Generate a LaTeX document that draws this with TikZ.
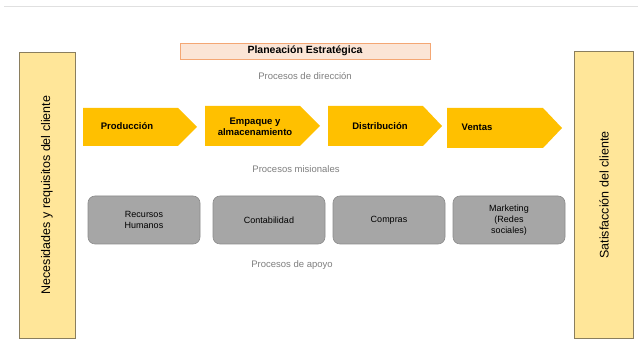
\documentclass[tikz,border=0pt]{standalone}
\usepackage{fontspec}
\setmainfont{Liberation Sans}
\definecolor{chev}{HTML}{FFC000}
\definecolor{side}{HTML}{FFE699}
\definecolor{sideb}{HTML}{8A7E5E}
\definecolor{plan}{HTML}{FBE5D6}
\definecolor{planb}{HTML}{F4A774}
\definecolor{grayf}{HTML}{A6A6A6}
\definecolor{grayb}{HTML}{8C8C8C}
\definecolor{lbl}{HTML}{7F7F7F}
\begin{document}
\begin{tikzpicture}[x=1pt,y=-1pt,
  sidebox/.style={draw=sideb, fill=side, line width=0.8pt, rotate=90, inner sep=0pt,
    font=\fontsize{12.5}{14}\selectfont},
  chevtext/.style={font=\bfseries\fontsize{9.5}{11.5}\selectfont, align=center, inner sep=0pt},
  supbox/.style={draw=grayb, fill=grayf, rounded corners=7pt, line width=0.6pt,
    minimum width=112pt, minimum height=48pt, align=center, inner sep=1pt,
    font=\fontsize{9}{11}\selectfont},
  lbltext/.style={text=lbl, font=\fontsize{9.5}{11}\selectfont, inner sep=0pt},
  chevfill/.style={fill=chev}]
\useasboundingbox (0,0) rectangle (638,352);
\fill[white] (0,0) rectangle (638,352);
\draw[black!12, line width=0.8pt] (4,6) -- (638,6);
% side boxes
\node[sidebox, minimum width=286pt, minimum height=56pt] (need) at (47,195) {Necesidades y requisitos del cliente};
\node[sidebox, minimum width=287pt, minimum height=59pt] (sat) at (604,195) {Satisfacción del cliente};
% planning box
\node[draw=planb, fill=plan, line width=0.8pt, minimum width=250pt, minimum height=16pt, inner sep=0pt,
  font=\bfseries\fontsize{10.5}{12}\selectfont] (plan) at (305,51) {Planeación Estratégica};
\node[lbltext] (dir) at (305,76) {Procesos de dirección};
% chevrons
\fill[chevfill] (83,108) -- (178,108) -- (197,127) -- (178,146) -- (83,146) -- cycle;
\fill[chevfill] (205,106) -- (300,106) -- (320,126) -- (300,146) -- (205,146) -- cycle;
\fill[chevfill] (328,106) -- (423,106) -- (442,126) -- (423,146) -- (328,146) -- cycle;
\fill[chevfill] (447,108) -- (543,108) -- (562,128) -- (543,148) -- (447,148) -- cycle;
\node[chevtext] (prod) at (127,126) {Producción};
\node[chevtext] (emp) at (255,127) {Empaque y\\almacenamiento};
\node[chevtext] (dist) at (380,126) {Distribución};
\node[chevtext] (vent) at (477,127) {Ventas};
\node[lbltext] (mis) at (296,169) {Procesos misionales};
% support boxes
\node[supbox] (rh) at (144,220) {Recursos\\Humanos};
\node[supbox] (cont) at (269,220) {Contabilidad};
\node[supbox] (comp) at (389,220) {Compras};
\node[supbox] (mkt) at (509,220) {Marketing\\(Redes\\sociales)};
\node[lbltext] (apoyo) at (292,265) {Procesos de apoyo};
\end{tikzpicture}
\end{document}
